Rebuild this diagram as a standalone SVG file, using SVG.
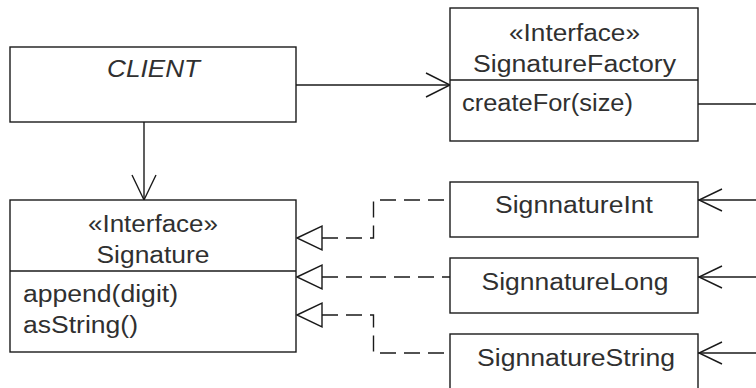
<svg xmlns="http://www.w3.org/2000/svg" width="756" height="388" viewBox="0 0 756 388">
  <style>
    .box { fill: #ffffff; stroke: #1a1a1a; stroke-width: 1.4; }
    .div { stroke: #1a1a1a; stroke-width: 1.4; fill: none; }
    .t { font-family: "Liberation Sans", Arial, sans-serif; font-size: 23px; fill: #303030; }
    .c { text-anchor: middle; }
    .edge { stroke: #1a1a1a; stroke-width: 1.4; fill: none; }
    .dash { stroke-dasharray: 16 8; }
    .tri { fill: #ffffff; stroke: #1a1a1a; stroke-width: 1.4; stroke-linejoin: miter; }
  </style>
  <rect width="756" height="388" fill="#ffffff"/>

  <!-- connectors -->
  <g id="connectors">
    <!-- CLIENT uses the factory -->
    <path class="edge" d="M296 85 H450"/>
    <path class="edge" d="M426 73 L450 85 L426 97"/>
    <!-- CLIENT uses Signature -->
    <path class="edge" d="M144 122 V200"/>
    <path class="edge" d="M132 175 L144 200 L156 175"/>
    <!-- factory creates the implementations (runs off the right edge) -->
    <path class="edge" d="M698 104 H756"/>
    <path class="edge" d="M756 200 H698"/>
    <path class="edge" d="M722 189 L699 200 L722 211"/>
    <path class="edge" d="M756 277 H698"/>
    <path class="edge" d="M722 266 L699 277 L722 288"/>
    <path class="edge" d="M756 353 H698"/>
    <path class="edge" d="M722 342 L699 353 L722 364"/>
    <!-- realizations of Signature -->
    <path class="edge dash" d="M322 238 H373.5 V200 H450"/>
    <path class="edge dash" d="M322 277 H450"/>
    <path class="edge dash" d="M322 315 H373.5 V353 H450"/>
    <polygon class="tri" points="297,238 322,226 322,250"/>
    <polygon class="tri" points="297,277 322,265 322,289"/>
    <polygon class="tri" points="297,315 322,303 322,327"/>
  </g>

  <g id="client">
    <rect class="box" x="10" y="47" width="286" height="75"/>
    <text class="t c" x="153.5" y="77" font-style="italic" textLength="93" lengthAdjust="spacingAndGlyphs">CLIENT</text>
  </g>

  <g id="signature-factory">
    <rect class="box" x="450" y="8" width="248" height="133"/>
    <line class="div" x1="450" y1="80" x2="698" y2="80"/>
    <text class="t c" x="574.5" y="41" textLength="131" lengthAdjust="spacingAndGlyphs">«Interface»</text>
    <text class="t c" x="574.5" y="72" textLength="203" lengthAdjust="spacingAndGlyphs">SignatureFactory</text>
    <text class="t" x="462" y="111" textLength="171" lengthAdjust="spacingAndGlyphs">createFor(size)</text>
  </g>

  <g id="signature">
    <rect class="box" x="10" y="200" width="286" height="152"/>
    <line class="div" x1="10" y1="271" x2="296" y2="271"/>
    <text class="t c" x="153" y="232" textLength="130" lengthAdjust="spacingAndGlyphs">«Interface»</text>
    <text class="t c" x="153" y="263" textLength="113" lengthAdjust="spacingAndGlyphs">Signature</text>
    <text class="t" x="23" y="302" textLength="155" lengthAdjust="spacingAndGlyphs">append(digit)</text>
    <text class="t" x="23" y="333" textLength="115" lengthAdjust="spacingAndGlyphs">asString()</text>
  </g>

  <g id="signature-int">
    <rect class="box" x="450" y="182" width="248" height="55"/>
    <text class="t c" x="574" y="212.5" textLength="158" lengthAdjust="spacingAndGlyphs">SignnatureInt</text>
  </g>

  <g id="signature-long">
    <rect class="box" x="450" y="258" width="248" height="55"/>
    <text class="t c" x="575" y="290" textLength="187" lengthAdjust="spacingAndGlyphs">SignnatureLong</text>
  </g>

  <g id="signature-string">
    <rect class="box" x="450" y="334" width="248" height="70"/>
    <text class="t c" x="576" y="366" textLength="198" lengthAdjust="spacingAndGlyphs">SignnatureString</text>
  </g>
</svg>
